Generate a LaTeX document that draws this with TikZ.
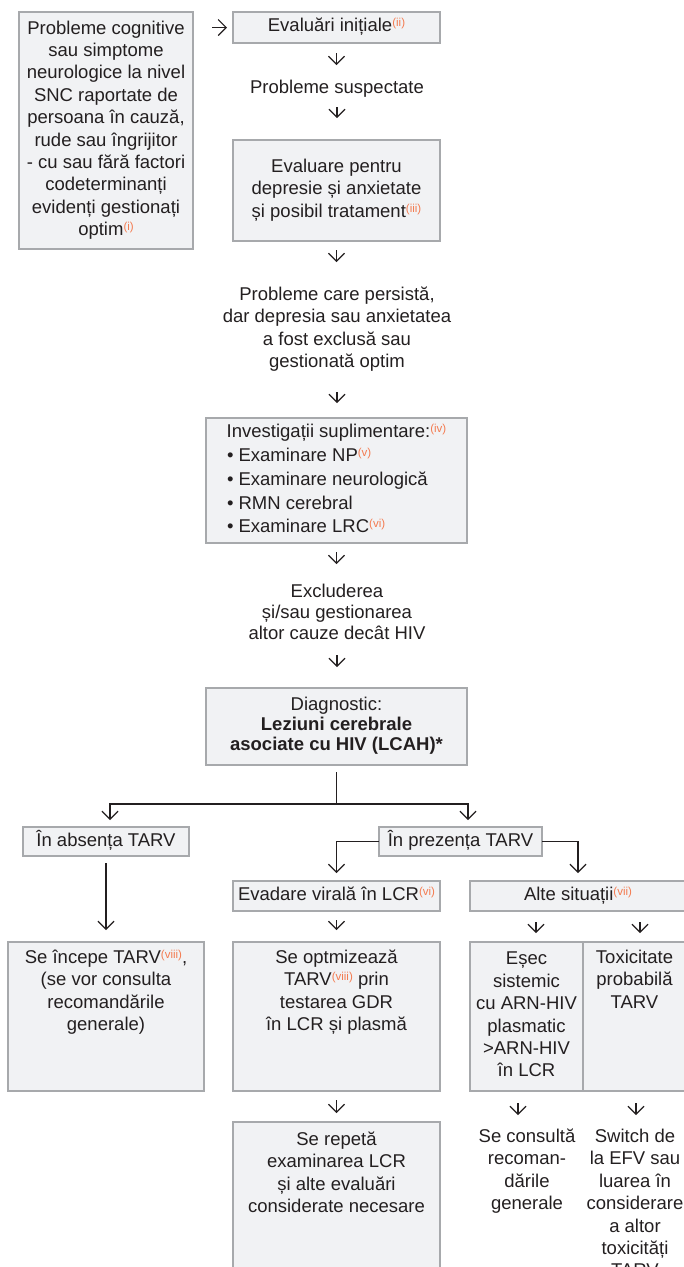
\documentclass[tikz,border=0pt]{standalone}
\usepackage{fontspec}
\setmainfont{Liberation Sans}
\usetikzlibrary{arrows.meta}
\setlength{\parskip}{0pt}
\definecolor{txt}{HTML}{231F20}
\definecolor{boxfill}{HTML}{F1F2F4}
\definecolor{boxdraw}{HTML}{A7A9AC}
\definecolor{supc}{HTML}{F47B50}
\definecolor{linec}{HTML}{231F20}
\newcommand{\sr}[1]{\raisebox{5pt}{\fontsize{11.5}{12}\selectfont\color{supc}(#1)}}
\newcommand{\fs}[1]{\fontsize{18.5}{#1}\selectfont}
\newcommand{\bc}[4]{\parbox[c][#2pt][c]{#1pt}{\fs{#3}\centering\strut #4\strut}}
\newcommand{\bt}[5]{\parbox[c][#2pt][t]{#1pt}{\fs{#3}\centering\vspace*{#4pt}\strut #5\strut}}
\tikzset{
  box/.style={draw=boxdraw, line width=1.5pt, fill=boxfill, inner sep=0pt, outer sep=0pt, text=txt},
  plain/.style={inner sep=0pt, outer sep=0pt, align=center, text=txt, font={\fs{#1}}},
  plain/.default=22.4,
  arr/.style={draw=linec, line width=1.1pt, -{Straight Barb[length=8pt,width=16pt,line width=1.1pt]}},
  conn/.style={draw=linec, line width=1.2pt, -{Straight Barb[length=8pt,width=16pt,line width=1.2pt]}},
}
\begin{document}
\begin{tikzpicture}[x=1pt, y=-1pt]
\useasboundingbox (0,0) rectangle (684,1267);
\clip (0,0) rectangle (684,1267);
% top part
\node[box] (A) at (106,130.5) {\bc{174}{237}{22.4}{Probleme cognitive\\ sau simptome\\ neurologice la nivel\\ SNC raportate de\\ persoana în cauză,\\ rude sau îngrijitor\\ - cu sau fără factori\\ codeterminanți\\ evidenți gestionați\\ optim\sr{i}}};
\node[box] (B) at (336.5,27.5) {\bc{207}{31}{22.4}{Evaluări inițiale\sr{ii}}};
\node[plain, anchor=north] (C) at (337,77.8) {\strut Probleme suspectate\strut};
\node[box] (D) at (336.5,190.5) {\bc{207}{101}{22.4}{Evaluare pentru\\ depresie și anxietate\\ și posibil tratament\sr{iii}}};
\node[plain, anchor=north] (E) at (337,284.8) {\strut Probleme care persistă,\\ dar depresia sau anxietatea\\ a fost exclusă sau\\ gestionată optim\strut};
\node[box] (F) at (336.5,480.5) {\parbox[c][125pt][c]{261pt}{\fs{23.75}\centering\strut Investigații suplimentare:\sr{iv}\par\raggedright\leftskip=21pt • Examinare NP\sr{v}\\ • Examinare neurologică\\ • RMN cerebral\\ • Examinare LRC\sr{vi}\strut}};
\node[plain=20.8, anchor=north] (G) at (337,582.9) {\strut Excluderea\\ și/sau gestionarea\\ altor cauze decât HIV\strut};
\node[box] (H) at (336.5,726.5) {\bc{261}{77}{20}{Diagnostic:\\ \textbf{Leziuni cerebrale}\\ \textbf{asociate cu HIV (LCAH)*}}};
% branches
\node[box] (I) at (106,841.5) {\bc{166}{29}{22.4}{În absența TARV}};
\node[box] (J) at (460.5,841.5) {\bc{163}{29}{22.4}{În prezența TARV}};
\node[box] (K) at (106,1016.5) {\bt{196}{149}{22.4}{5.8}{Se începe TARV\sr{viii},\\ (se vor consulta\\ recomandările\\ generale)}};
\node[box] (L) at (336.5,896) {\bc{207}{30}{22.4}{Evadare virală în LCR\sr{vi}}};
\node[box] (M) at (578,896) {\bc{216}{30}{22.4}{Alte situații\sr{vii}}};
\node[box] (N) at (336.5,1016.5) {\bt{207}{149}{22.4}{5.8}{Se optmizează\\ TARV\sr{viii} prin\\ testarea GDR\\ în LCR și plasmă}};
\node[box] (O) at (336.5,1207) {\bt{207}{170}{22.4}{7.8}{Se repetă\\ examinarea LCR\\ și alte evaluări\\ considerate necesare}};
\node[box] (P) at (526.5,1016.5) {\bc{113}{149}{22.4}{Eșec\\ sistemic\\ cu ARN-HIV\\ plasmatic\\ >ARN-HIV\\ în LCR}};
\node[box] (Q) at (634.5,1016.5) {\bt{103}{149}{22.4}{5.8}{Toxicitate\\ probabilă\\ TARV}};
\node[plain, anchor=north] (R) at (527,1126.8) {\strut Se consultă\\ recoman-\\ dările\\ generale\strut};
\node[plain, anchor=north] (S) at (635,1126.8) {\strut Switch de\\ la EFV sau\\ luarea în\\ considerare\\ a altor\\ toxicități\\ TARV\strut};
% connectors
\draw[arr, shorten <=19pt, shorten >=6pt] (A.east |- B.west) -- (B.west);
\draw[arr, shorten <=10pt, shorten >=12.8pt] (B.south) -- (B.south |- C.north);
\draw[arr, shorten <=6.8pt, shorten >=22pt] (C.south) -- (C.south |- D.north);
\draw[arr, shorten <=9pt, shorten >=22.8pt] (D.south) -- (D.south |- E.north);
\draw[arr, shorten <=17.6pt, shorten >=15pt] (E.south) -- (E.south |- F.north);
\draw[arr, shorten <=9pt, shorten >=18.9pt] (F.south) -- (F.south |- G.north);
\draw[arr, shorten <=9.7pt, shorten >=21pt] (G.south) -- (G.south |- H.north);
\draw[conn, shorten <=7pt, shorten >=7pt] (H.south) -- ++(0,39) -| ([xshift=4pt]I.north);
\draw[conn, shorten <=7pt, shorten >=7pt] (H.south) -- ++(0,39) -| ([xshift=7.5pt]J.north);
\draw[conn, shorten <=7pt, shorten >=12pt] (I.south) -- (K.north);
\draw[conn, shorten >=8pt] (J.west) -| (L.north);
\draw[conn, shorten >=8pt] (J.east) -| (M.north);
\draw[arr, shorten <=9pt, shorten >=12pt] (L.south) -- (N.north);
\draw[arr, shorten <=9pt, shorten >=9pt] (N.south) -- (O.north);
\draw[arr, shorten <=11pt, shorten >=9pt] ([xshift=9.5pt]P.north |- M.south) -- ([xshift=9.5pt]P.north);
\draw[arr, shorten <=11pt, shorten >=9pt] ([xshift=5.5pt]Q.north |- M.south) -- ([xshift=5.5pt]Q.north);
\draw[arr, shorten <=12pt, shorten >=11.8pt] ([xshift=-8.5pt]P.south) -- ([xshift=-8.5pt]P.south |- R.north);
\draw[arr, shorten <=12pt, shorten >=11.8pt] ([xshift=1.5pt]Q.south) -- ([xshift=1.5pt]Q.south |- S.north);
\end{tikzpicture}
\end{document}
